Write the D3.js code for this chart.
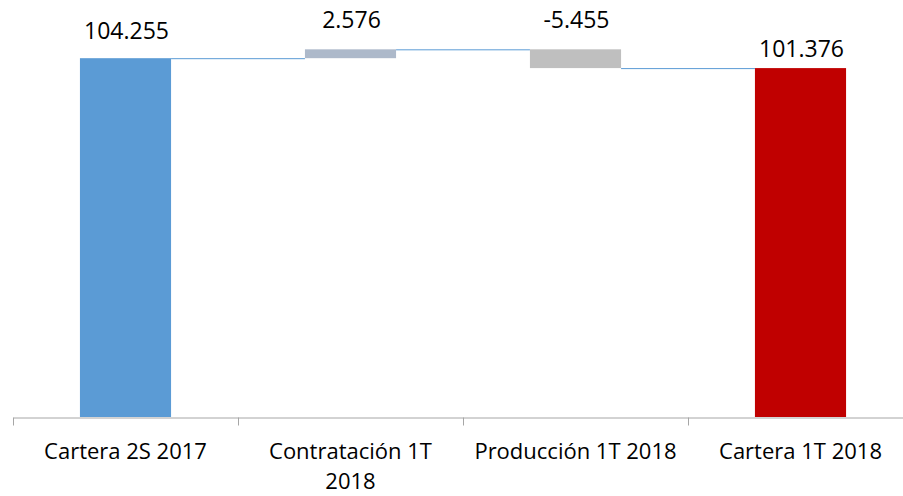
<!DOCTYPE html>
<html>
<head>
<meta charset="utf-8">
<script src="https://cdn.jsdelivr.net/npm/d3@7"></script>
<style>
  body { margin: 0; background: #fff; }
  text { font-family: "Open Sans", "Noto Sans", sans-serif; fill: #000; }
</style>
</head>
<body>
<svg id="chart" width="903" height="496"></svg>
<script>
// waterfall data
var categories = ["Cartera 2S 2017", "Contratación 1T 2018", "Producción 1T 2018", "Cartera 1T 2018"];
var values = [104.255, 2.576, -5.455, 101.376];
var kinds = ["total", "delta", "delta", "total"];
var labels = ["104.255", "2.576", "-5.455", "101.376"];
var colors = ["#5B9BD5", "#ADB9CA", "#BFBFBF", "#C00000"];

var width = 903, height = 496;
var baseY = 417;
var labelDy = [-19, -21, -21, -11];

var svg = d3.select("#chart");

// running totals -> start/end of each bar
var running = 0;
var bars = categories.map(function (c, i) {
  var start, end;
  if (kinds[i] === "total") { start = 0; end = values[i]; running = values[i]; }
  else { start = running; end = running + values[i]; running = end; }
  return { cat: c, start: start, end: end, level: running, label: labels[i], color: colors[i], i: i };
});

var x = d3.scaleBand().domain(categories).range([13, 913]).padding(0);
var y = d3.scaleLinear().domain([0, 120]).range([baseY, baseY - 120 * 3.4417]);
var barW = x.bandwidth() * 0.405;

function barX(d) { return x(d.cat) + (x.bandwidth() - barW) / 2; }

// connectors
var links = bars.slice(0, -1).map(function (d, i) { return { a: d, b: bars[i + 1] }; });
svg.append("g").selectAll("line")
  .data(links)
  .enter().append("line")
  .attr("x1", function (d) { return barX(d.a) + barW; })
  .attr("x2", function (d) { return barX(d.b); })
  .attr("y1", function (d) { return y(d.a.level) + 0.5; })
  .attr("y2", function (d) { return y(d.a.level) + 0.5; })
  .attr("stroke", "#5B9BD5")
  .attr("stroke-width", 1);

// bars
svg.append("g").selectAll("rect")
  .data(bars)
  .enter().append("rect")
  .attr("x", barX)
  .attr("width", barW)
  .attr("y", function (d) { return y(Math.max(d.start, d.end)); })
  .attr("height", function (d) { return Math.abs(y(d.start) - y(d.end)); })
  .attr("fill", function (d) { return d.color; });

// value labels
svg.append("g").selectAll("text")
  .data(bars)
  .enter().append("text")
  .attr("x", function (d) { return barX(d) + barW / 2 + 1; })
  .attr("y", function (d) { return y(Math.max(d.start, d.end)) + labelDy[d.i]; })
  .attr("text-anchor", "middle")
  .style("font-size", "23px")
  .text(function (d) { return d.label; });

// axis
var axis = svg.append("g")
  .attr("transform", "translate(0," + (baseY + 0.5) + ")")
  .call(d3.axisBottom(x).tickSize(0).tickPadding(0));
axis.select(".domain").attr("stroke", "#A6A6A6");
axis.selectAll(".tick text").remove();

var edges = categories.map(function (c) { return x(c); }).concat([x.range()[1]]);
axis.selectAll(".edge")
  .data(edges)
  .enter().append("line")
  .attr("class", "edge")
  .attr("x1", function (d) { return d + 0.5; })
  .attr("x2", function (d) { return d + 0.5; })
  .attr("y1", 0)
  .attr("y2", 8)
  .attr("stroke", "#A6A6A6");

// category labels, wrapped to band width
var wrapWidth = 210, lineGap = 30, firstY = 41;
var catText = axis.selectAll(".cat")
  .data(categories)
  .enter().append("text")
  .attr("class", "cat")
  .attr("text-anchor", "middle")
  .style("font-size", "22px")
  .attr("x", function (c) { return x(c) + x.bandwidth() / 2; })
  .attr("y", firstY);

catText.each(function (c) {
  var t = d3.select(this);
  var words = c.split(" "), line = [], lineNo = 0;
  var cx = x(c) + x.bandwidth() / 2;
  var tspan = t.append("tspan").attr("x", cx).attr("y", firstY);
  words.forEach(function (w) {
    line.push(w);
    tspan.text(line.join(" "));
    if (tspan.node().getComputedTextLength() > wrapWidth && line.length > 1) {
      line.pop();
      tspan.text(line.join(" "));
      line = [w];
      lineNo++;
      tspan = t.append("tspan").attr("x", cx).attr("y", firstY + lineNo * lineGap).text(w);
    }
  });
});
</script>
</body>
</html>
